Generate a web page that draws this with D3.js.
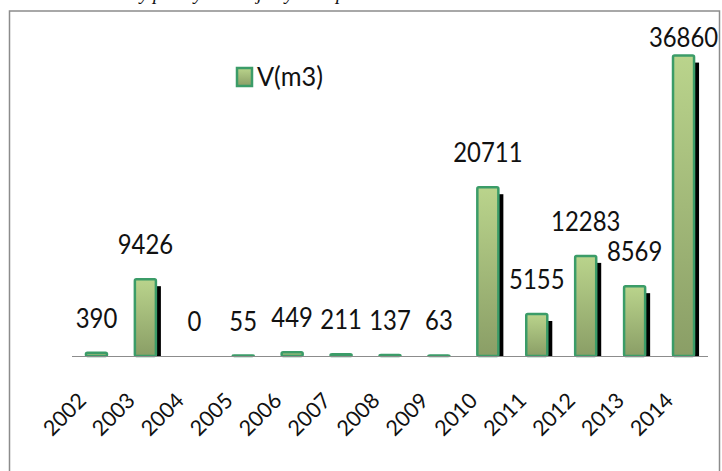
<!DOCTYPE html>
<html>
<head>
<meta charset="utf-8">
<script src="https://cdn.jsdelivr.net/npm/d3@7.9.0/dist/d3.min.js"></script>
<style>
  body { margin: 0; background: #fff; }
  svg { display: block; }
  text { font-family: Lato, "Open Sans", sans-serif; fill: #111; }
</style>
</head>
<body>
<svg id="chart" width="722" height="471"></svg>
<script>
const years = ['2002', '2003', '2004', '2005', '2006', '2007', '2008', '2009', '2010', '2011', '2012', '2013', '2014'];
const volumes = [390, 9426, 0, 55, 449, 211, 137, 63, 20711, 5155, 12283, 8569, 36860];
const seriesName = 'V(m3)';
const yMax = 40000;

const svg = d3.select('#chart');

// bottom of the caption line above the chart (only descenders show)
const captionBits = [['y', 140], ['p', 153], ['y', 194], ['j', 257], ['y', 285], ['p', 336]];
svg.append('g')
  .selectAll('text')
  .data(captionBits)
  .join('text')
  .attr('x', (d) => d[1])
  .attr('y', 0)
  .style('font-family', '"Liberation Serif", serif')
  .style('font-style', 'italic')
  .style('font-size', '19px')
  .text((d) => d[0]);

// chart frame
svg.append('rect')
  .attr('x', 9.5).attr('y', 11)
  .attr('width', 710).attr('height', 480)
  .attr('fill', 'none')
  .attr('stroke', '#8c8c8c')
  .attr('stroke-width', 1.5);

const defs = svg.append('defs');
const grad = defs.append('linearGradient')
  .attr('id', 'barFill')
  .attr('x1', 0).attr('y1', 0).attr('x2', 0).attr('y2', 1);
grad.append('stop').attr('offset', '0%').attr('stop-color', '#bad48c');
grad.append('stop').attr('offset', '100%').attr('stop-color', '#8a9e66');

const x = d3.scaleBand()
  .domain(years)
  .range([72, 708])
  .paddingInner(0.57)
  .paddingOuter(0.285);

const y = d3.scaleLinear().domain([0, yMax]).range([356, 30]);

const data = years.map((year, i) => ({ year, value: volumes[i] }));
const drawn = data.filter((d) => d.value > 0);

// shadows
svg.append('g')
  .selectAll('rect')
  .data(drawn)
  .join('rect')
  .attr('x', (d) => x(d.year) + 5)
  .attr('y', (d) => Math.min(y(d.value) + 7, y(0)))
  .attr('width', x.bandwidth())
  .attr('height', (d) => Math.max(0, y(0) - y(d.value) - 7))
  .attr('fill', '#000');

// bars
svg.append('g')
  .selectAll('rect')
  .data(drawn)
  .join('rect')
  .attr('x', (d) => x(d.year))
  .attr('y', (d) => y(d.value))
  .attr('width', x.bandwidth())
  .attr('height', (d) => y(0) - y(d.value))
  .attr('rx', 1.5)
  .attr('fill', 'url(#barFill)')
  .attr('stroke', '#3b9c68')
  .attr('stroke-width', 2.5);

// category axis line
svg.append('line')
  .attr('x1', 72).attr('x2', 708)
  .attr('y1', y(0) + 0.5).attr('y2', y(0) + 0.5)
  .attr('stroke', '#8c8c8c')
  .attr('stroke-width', 1.2);

// value labels
svg.append('g')
  .selectAll('text')
  .data(data)
  .join('text')
  .attr('text-anchor', 'middle')
  .attr('transform', (d) => {
    const cx = x(d.year) + x.bandwidth() / 2;
    const by = Math.max(y(d.value) - 25, 47);
    return `translate(${cx},${by}) scale(1.04,1.2)`;
  })
  .style('font-size', '23px')
  .text((d) => d.value);

// year labels
svg.append('g')
  .selectAll('text')
  .data(years)
  .join('text')
  .attr('text-anchor', 'end')
  .attr('transform', (d) => `translate(${x(d) + x.bandwidth() / 2 - 9},402) rotate(-45)`)
  .style('font-size', '21.5px')
  .text((d) => d);

// legend
const legend = svg.append('g').attr('transform', 'translate(236,67)');
legend.append('rect')
  .attr('x', 1).attr('y', 1)
  .attr('width', 15).attr('height', 18)
  .attr('fill', 'url(#barFill)')
  .attr('stroke', '#3b9c68')
  .attr('stroke-width', 2.5);
legend.append('text')
  .attr('transform', 'translate(21,19) scale(1.1,1.2)')
  .style('font-size', '23px')
  .text(seriesName);
</script>
</body>
</html>
